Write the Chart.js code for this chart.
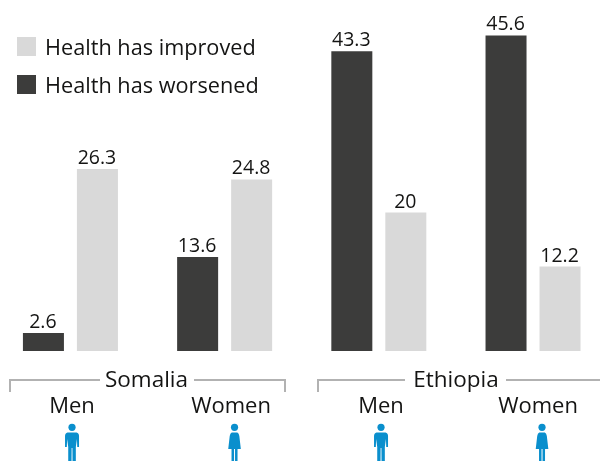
<!DOCTYPE html>
<html>
<head>
<meta charset="utf-8">
<title>Health change</title>
<script src="https://cdn.jsdelivr.net/npm/chart.js@4"></script>
<style>
    html, body { margin: 0; padding: 0; background: #fff; overflow: hidden; }
    #wrap { position: relative; width: 600px; height: 461px; overflow: hidden; }
    /* canvas runs a bit past both edges because the bar groups do */
    #chart { position: absolute; left: -7px; top: 0; }
</style>
</head>
<body>
<div id="wrap"><canvas id="chart" width="618" height="461"></canvas></div>
<script>
const categories = ["Men", "Women", "Men", "Women"];
const worsened = [2.6, 13.6, 43.3, 45.6];
const improved = [26.3, 24.8, 20, 12.2];
const countries = ["Somalia", "Ethiopia"];

const FONT = '"Open Sans", sans-serif';
const TEXT = "#141413";
const DARK = "#3c3c3b";
const LIGHT = "#d9d9d9";
const BLUE = "#0a8fcd";
const GREY = "#b2b2b2";
const PAGE_SHIFT = 7;

// labels and icons sit a little right of the bar groups in the original
const labelShift = [1.6, 6.4, 2.2, 5];
const iconShift = [1.6, 9.9, 2.2, 9];

function drawMan(ctx, cx) {
    ctx.beginPath();
    ctx.arc(cx, 427.3, 3.6, 0, Math.PI * 2);
    ctx.fill();
    ctx.beginPath();
    ctx.moveTo(cx - 4.5, 432.5);
    ctx.lineTo(cx + 4.5, 432.5);
    ctx.quadraticCurveTo(cx + 7, 433, cx + 7, 436);
    ctx.lineTo(cx + 7, 447);
    ctx.lineTo(cx + 5.2, 447);
    ctx.lineTo(cx + 4.9, 439);
    ctx.lineTo(cx + 3.8, 447);
    ctx.lineTo(cx + 3.8, 461);
    ctx.lineTo(cx + 0.5, 461);
    ctx.lineTo(cx + 0.4, 448);
    ctx.lineTo(cx - 0.4, 448);
    ctx.lineTo(cx - 0.5, 461);
    ctx.lineTo(cx - 3.8, 461);
    ctx.lineTo(cx - 3.8, 447);
    ctx.lineTo(cx - 4.9, 439);
    ctx.lineTo(cx - 5.2, 447);
    ctx.lineTo(cx - 7, 447);
    ctx.lineTo(cx - 7, 436);
    ctx.quadraticCurveTo(cx - 7, 433, cx - 4.5, 432.5);
    ctx.closePath();
    ctx.fill();
}

function drawWoman(ctx, cx) {
    ctx.beginPath();
    ctx.arc(cx, 427.3, 3.6, 0, Math.PI * 2);
    ctx.fill();
    ctx.beginPath();
    ctx.moveTo(cx - 2.8, 432.5);
    ctx.lineTo(cx + 2.8, 432.5);
    ctx.quadraticCurveTo(cx + 4.4, 433, cx + 4.8, 436);
    ctx.lineTo(cx + 6.3, 449);
    ctx.lineTo(cx + 3, 449);
    ctx.lineTo(cx + 3, 461);
    ctx.lineTo(cx + 0.5, 461);
    ctx.lineTo(cx + 0.5, 449);
    ctx.lineTo(cx - 0.5, 449);
    ctx.lineTo(cx - 0.5, 461);
    ctx.lineTo(cx - 3, 461);
    ctx.lineTo(cx - 3, 449);
    ctx.lineTo(cx - 6.3, 449);
    ctx.lineTo(cx - 4.8, 436);
    ctx.quadraticCurveTo(cx - 4.4, 433, cx - 2.8, 432.5);
    ctx.closePath();
    ctx.fill();
}

// values over the bars, legend, brackets, category labels, icons
const annotations = {
    id: "annotations",
    afterDatasetsDraw(chart) {
        const ctx = chart.ctx;
        ctx.save();
        ctx.fillStyle = TEXT;
        ctx.textAlign = "center";
        ctx.textBaseline = "alphabetic";
        ctx.font = "19.5px " + FONT;
        chart.data.datasets.forEach((ds, i) => {
            chart.getDatasetMeta(i).data.forEach((bar, j) => {
                ctx.fillText(String(ds.data[j]), bar.x - 0.5, bar.y - 5);
            });
        });

        ctx.translate(PAGE_SHIFT, 0);

        // legend, improved first
        ctx.textAlign = "left";
        ctx.font = "21.7px " + FONT;
        [[1, 37, 55], [0, 75, 93]].forEach(([i, boxY, textY]) => {
            const ds = chart.data.datasets[i];
            ctx.fillStyle = ds.backgroundColor;
            ctx.fillRect(17, boxY, 19, 19);
            ctx.fillStyle = TEXT;
            ctx.fillText(ds.label, 45, textY);
        });

        // country brackets
        ctx.strokeStyle = GREY;
        ctx.lineWidth = 2;
        ctx.beginPath();
        ctx.moveTo(10, 392); ctx.lineTo(10, 380); ctx.lineTo(100, 380);
        ctx.moveTo(194, 380); ctx.lineTo(285, 380); ctx.lineTo(285, 392);
        ctx.moveTo(318, 392); ctx.lineTo(318, 380); ctx.lineTo(405, 380);
        ctx.moveTo(506, 380); ctx.lineTo(600, 380);
        ctx.stroke();

        ctx.fillStyle = TEXT;
        ctx.textAlign = "center";
        ctx.font = "22.5px " + FONT;
        ctx.fillText(countries[0], 146.5, 387);
        ctx.fillText(countries[1], 456, 387);

        const xScale = chart.scales.x;
        ctx.font = "22px " + FONT;
        categories.forEach((name, i) => {
            const x = xScale.getPixelForTick(i) - PAGE_SHIFT;
            ctx.fillStyle = TEXT;
            ctx.fillText(name, x + labelShift[i], 413);
            ctx.fillStyle = BLUE;
            if (name === "Men") {
                drawMan(ctx, x + iconShift[i]);
            } else {
                drawWoman(ctx, x + iconShift[i]);
            }
        });
        ctx.restore();
    }
};

new Chart(document.getElementById("chart").getContext("2d"), {
    type: "bar",
    data: {
        labels: categories,
        datasets: [
            { label: "Health has worsened", data: worsened, backgroundColor: DARK },
            { label: "Health has improved", data: improved, backgroundColor: LIGHT }
        ]
    },
    options: {
        responsive: false,
        animation: false,
        layout: { padding: { left: 0.33, right: 0.87, top: 5, bottom: 110 } },
        datasets: { bar: { categoryPercentage: 0.7004, barPercentage: 0.7593 } },
        plugins: { legend: { display: false }, tooltip: { enabled: false } },
        scales: {
            x: { display: false },
            y: { display: false, min: 0, max: 50 }
        }
    },
    plugins: [annotations]
});
</script>
</body>
</html>
